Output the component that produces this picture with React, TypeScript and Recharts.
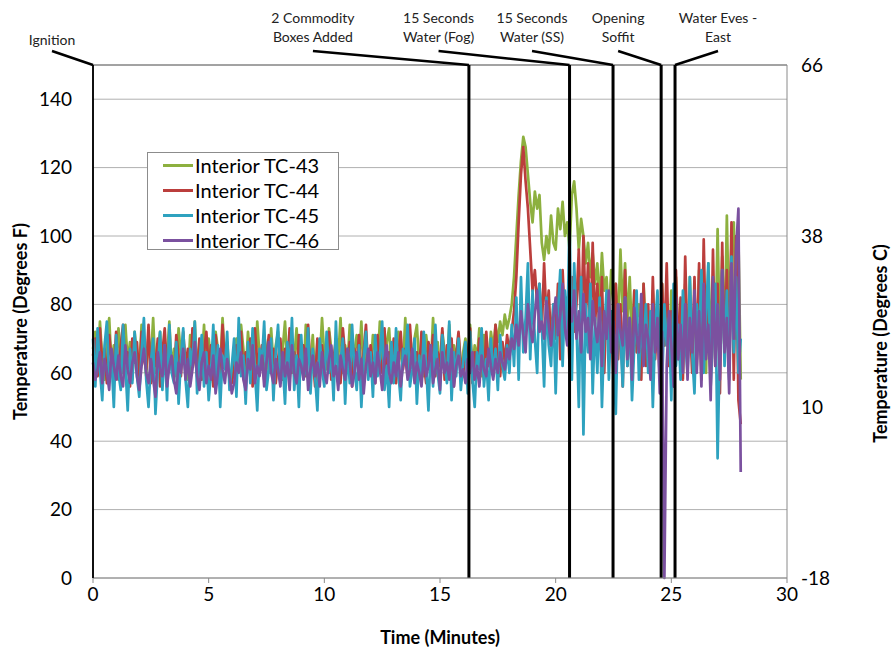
import { LineChart, Line, XAxis, YAxis, CartesianGrid, ReferenceLine, Legend } from "recharts"

const FONT = "Lato, 'Open Sans', sans-serif"

// sample times (minutes)
const timeMinutes = [
    0, 0.1, 0.2, 0.3, 0.4, 0.5, 0.6, 0.7, 0.8, 0.9, 1, 1.1, 1.2, 1.3, 1.4, 1.5, 1.6, 1.7, 1.8, 1.9,
    2, 2.1, 2.2, 2.3, 2.4, 2.5, 2.6, 2.7, 2.8, 2.9, 3, 3.1, 3.2, 3.3, 3.4, 3.5, 3.6, 3.7, 3.8, 3.9,
    4, 4.1, 4.2, 4.3, 4.4, 4.5, 4.6, 4.7, 4.8, 4.9, 5, 5.1, 5.2, 5.3, 5.4, 5.5, 5.6, 5.7, 5.8, 5.9,
    6, 6.1, 6.2, 6.3, 6.4, 6.5, 6.6, 6.7, 6.8, 6.9, 7, 7.1, 7.2, 7.3, 7.4, 7.5, 7.6, 7.7, 7.8, 7.9,
    8, 8.1, 8.2, 8.3, 8.4, 8.5, 8.6, 8.7, 8.8, 8.9, 9, 9.1, 9.2, 9.3, 9.4, 9.5, 9.6, 9.7, 9.8, 9.9,
    10, 10.1, 10.2, 10.3, 10.4, 10.5, 10.6, 10.7, 10.8, 10.9, 11, 11.1, 11.2, 11.3, 11.4, 11.5, 11.6, 11.7, 11.8, 11.9,
    12, 12.1, 12.2, 12.3, 12.4, 12.5, 12.6, 12.7, 12.8, 12.9, 13, 13.1, 13.2, 13.3, 13.4, 13.5, 13.6, 13.7, 13.8, 13.9,
    14, 14.1, 14.2, 14.3, 14.4, 14.5, 14.6, 14.7, 14.8, 14.9, 15, 15.1, 15.2, 15.3, 15.4, 15.5, 15.6, 15.7, 15.8, 15.9,
    16, 16.1, 16.2, 16.3, 16.4, 16.5, 16.6, 16.7, 16.8, 16.9, 17, 17.1, 17.2, 17.3, 17.4, 17.5, 17.6, 17.7, 17.8, 17.9,
    18, 18.1, 18.2, 18.3, 18.4, 18.5, 18.6, 18.7, 18.8, 18.9, 19, 19.1, 19.2, 19.3, 19.4, 19.5, 19.6, 19.7, 19.8, 19.9,
    20, 20.1, 20.2, 20.3, 20.4, 20.5, 20.6, 20.7, 20.8, 20.9, 21, 21.1, 21.2, 21.3, 21.4, 21.5, 21.6, 21.7, 21.8, 21.9,
    22, 22.1, 22.2, 22.3, 22.4, 22.5, 22.6, 22.7, 22.8, 22.9, 23, 23.1, 23.2, 23.3, 23.4, 23.5, 23.6, 23.7, 23.8, 23.9,
    24, 24.1, 24.2, 24.3, 24.4, 24.5, 24.6, 24.7, 24.8, 24.9, 25, 25.1, 25.2, 25.3, 25.4, 25.5, 25.6, 25.7, 25.8, 25.9,
    26, 26.1, 26.2, 26.3, 26.4, 26.5, 26.6, 26.7, 26.8, 26.9, 27, 27.1, 27.2, 27.3, 27.4, 27.5, 27.6, 27.7, 27.8, 27.9,
    28
]

// temperatures (deg F), one row per 2 minutes
const tc43 = [
    67, 72, 61, 75, 64, 58, 70, 76, 62, 68, 59, 73, 66, 60, 74, 63, 69, 58, 72, 65,
    61, 74, 68, 59, 71, 63, 76, 60, 66, 72, 58, 69, 64, 75, 61, 67, 59, 73, 65, 70,
    63, 58, 71, 66, 75, 60, 68, 62, 74, 59, 70, 64, 57, 72, 67, 61, 76, 63, 69, 60,
    58, 64, 70, 61, 74, 67, 59, 72, 63, 69, 58, 75, 65, 61, 71, 66, 60, 73, 62, 68,
    72, 60, 67, 75, 62, 58, 70, 64, 73, 61, 68, 59, 74, 65, 62, 71, 58, 69, 63, 76,
    65, 61, 73, 67, 59, 70, 64, 76, 60, 68, 62, 74, 58, 66, 71, 63, 75, 60, 69, 64,
    60, 71, 66, 62, 75, 64, 58, 69, 73, 61, 67, 59, 72, 65, 62, 76, 60, 68, 63, 70,
    74, 62, 67, 59, 71, 65, 61, 76, 63, 69, 58, 72, 66, 60, 74, 62, 68, 64, 71, 59,
    66, 70, 62, 74, 60, 68, 64, 73, 59, 71, 65, 62, 72, 67, 74, 69, 75, 71, 77, 73,
    76, 80, 88, 100, 112, 122, 129, 126, 118, 110, 104, 113, 108, 112, 98, 93, 100, 95, 106, 98,
    96, 108, 102, 110, 100, 104, 96, 112, 116, 108, 96, 105, 100, 92, 98, 88, 95, 86, 92, 80,
    95, 84, 88, 76, 90, 80, 86, 72, 96, 78, 92, 74, 88, 70, 84, 76, 80, 68, 86, 72,
    78, 66, 84, 70, 82, 64, 86, 68, 80, 62, 84, 66, 88, 70, 76, 60, 86, 64, 88, 68,
    80, 62, 90, 66, 84, 60, 92, 70, 86, 64, 102, 68, 94, 66, 106, 72, 98, 104, 70, 100,
    58
]

const tc44 = [
    65, 70, 59, 73, 62, 67, 57, 71, 64, 60, 72, 58, 68, 74, 61, 66, 56, 70, 63, 69,
    58, 72, 64, 61, 74, 57, 67, 62, 70, 56, 66, 73, 60, 68, 63, 58, 71, 65, 59, 72,
    62, 67, 57, 73, 64, 60, 70, 58, 66, 72, 61, 68, 56, 71, 63, 59, 74, 62, 66, 58,
    57, 61, 68, 64, 72, 59, 66, 62, 70, 56, 73, 63, 60, 68, 58, 65, 71, 61, 67, 57,
    64, 70, 58, 67, 62, 73, 60, 66, 57, 71, 63, 68, 59, 74, 61, 65, 56, 70, 62, 68,
    60, 66, 72, 58, 64, 70, 61, 57, 73, 65, 62, 69, 56, 67, 63, 71, 59, 66, 74, 60,
    68, 62, 57, 71, 64, 60, 73, 58, 66, 62, 70, 57, 65, 72, 61, 67, 59, 74, 63, 58,
    66, 60, 72, 63, 57, 69, 64, 71, 59, 66, 62, 73, 58, 68, 61, 70, 56, 65, 72, 62,
    59, 68, 63, 73, 57, 66, 61, 70, 64, 58, 72, 62, 67, 60, 74, 65, 59, 69, 63, 71,
    66, 72, 78, 88, 104, 118, 126, 116, 108, 96, 84, 90, 80, 86, 72, 92, 76, 84, 68, 80,
    70, 86, 64, 90, 74, 82, 62, 88, 72, 80, 96, 70, 100, 76, 92, 68, 98, 74, 86, 70,
    88, 60, 82, 66, 78, 58, 86, 64, 80, 56, 90, 62, 76, 60, 84, 66, 74, 58, 86, 62,
    80, 60, 88, 64, 76, 58, 86, 68, 92, 62, 78, 56, 90, 64, 82, 58, 94, 66, 76, 60,
    88, 64, 92, 58, 99, 66, 80, 56, 96, 62, 86, 54, 98, 64, 90, 60, 104, 58, 100, 52,
    45
]

const tc45 = [
    70, 56, 73, 61, 52, 68, 75, 58, 64, 50, 71, 60, 55, 74, 62, 49, 67, 57, 72, 59,
    53, 66, 76, 58, 50, 63, 70, 48, 61, 72, 55, 68, 52, 74, 60, 57, 69, 51, 64, 73,
    58, 50, 67, 62, 75, 54, 63, 71, 56, 66, 52, 60, 74, 57, 68, 50, 65, 61, 72, 55,
    62, 70, 53, 76, 59, 65, 51, 69, 57, 73, 60, 49, 67, 63, 75, 55, 61, 70, 52, 66,
    74, 57, 63, 51, 69, 60, 76, 55, 65, 50, 71, 58, 62, 73, 54, 67, 59, 49, 70, 61,
    56, 72, 60, 66, 52, 75, 58, 63, 70, 51, 67, 57, 74, 61, 55, 68, 50, 64, 72, 58,
    66, 53, 71, 59, 64, 75, 55, 62, 50, 69, 57, 73, 60, 52, 67, 63, 74, 56, 61, 70,
    51, 65, 58, 72, 62, 49, 68, 56, 74, 60, 54, 71, 63, 57, 75, 52, 66, 59, 70, 55,
    63, 69, 54, 72, 58, 50, 66, 61, 73, 56, 64, 52, 70, 59, 67, 55, 71, 62, 58, 68,
    60, 74, 62, 82, 58, 88, 66, 76, 92, 64, 84, 70, 60, 86, 74, 56, 82, 68, 62, 80,
    54, 78, 90, 62, 84, 70, 105, 58, 92, 74, 50, 88, 42, 80, 66, 86, 54, 76, 60, 82,
    50, 72, 84, 58, 78, 64, 48, 80, 70, 56, 82, 62, 76, 52, 68, 84, 58, 74, 66, 80,
    60, 78, 50, 72, 84, 64, 56, 80, 68, 76, 52, 86, 62, 74, 58, 84, 70, 60, 88, 66,
    54, 80, 68, 90, 60, 76, 92, 56, 72, 86, 35, 70, 90, 62, 84, 58, 94, 66, 88, 60,
    70
]

const tc46 = [
    63, 58, 61, 66, 57, 64, 60, 55, 67, 62, 58, 65, 59, 56, 68, 61, 57, 63, 66, 59,
    55, 62, 67, 60, 57, 64, 58, 53, 66, 61, 59, 68, 56, 62, 65, 58, 54, 63, 60, 67,
    58, 64, 56, 61, 69, 59, 55, 63, 66, 57, 62, 58, 65, 54, 60, 67, 61, 57, 64, 59,
    54, 57, 63, 60, 66, 58, 55, 64, 61, 68, 57, 62, 59, 65, 56, 63, 69, 60, 57, 64,
    61, 56, 66, 59, 63, 55, 68, 60, 57, 64, 62, 58, 67, 55, 61, 65, 59, 63, 56, 66,
    60, 57, 64, 68, 59, 62, 55, 65, 61, 58, 67, 63, 56, 60, 66, 58, 64, 54, 62, 67,
    59, 63, 57, 66, 61, 55, 64, 68, 60, 57, 63, 59, 66, 56, 62, 65, 58, 61, 67, 57,
    63, 60, 56, 65, 59, 62, 68, 57, 61, 64, 55, 66, 60, 63, 58, 67, 56, 62, 65, 59,
    61, 57, 64, 60, 66, 58, 62, 56, 65, 61, 59, 67, 62, 58, 64, 60, 66, 63, 61, 67,
    64, 70, 67, 74, 68, 78, 71, 66, 80, 73, 69, 77, 84, 72, 75, 70, 81, 74, 68, 76,
    82, 71, 77, 86, 73, 68, 80, 75, 84, 70, 78, 66, 83, 72, 76, 64, 81, 74, 69, 79,
    62, 78, 70, 84, 66, 75, 60, 80, 72, 68, 82, 64, 76, 58, 79, 71, 66, 83, 62, 74,
    70, 58, 80, 66, 76, 54, 72, 0, 62, 78, 68, 56, 82, 64, 74, 60, 80, 58, 76, 66,
    84, 60, 78, 56, 86, 64, 74, 52, 88, 62, 80, 58, 90, 66, 76, 54, 92, 70, 96, 108,
    31
]

const seriesKeys = ["tc43", "tc44", "tc45", "tc46"]
const seriesNames = ["Interior TC-43", "Interior TC-44", "Interior TC-45", "Interior TC-46"]
const seriesColors = ["#8db03f", "#bb3e3c", "#2ea2bf", "#7b519f"]

const fTicks = [0, 20, 40, 60, 80, 100, 120, 140]
const cTicks = [-18, 10, 38, 66]
const xTicks = [0, 5, 10, 15, 20, 25, 30]

// event markers
const eventTimes = [0, 16.25, 20.6, 22.48, 24.56, 25.16]
const eventLabels = [
    ["Ignition"],
    ["2 Commodity", "Boxes Added"],
    ["15 Seconds", "Water (Fog)"],
    ["15 Seconds", "Water (SS)"],
    ["Opening", "Soffit"],
    ["Water Eves -", "East"]
]
// horizontal shift of each label from its marker line (px)
const labelShift = [-41, -156, -131, -81, -43, 43]

const rows = timeMinutes.map((t, i) => ({
    t,
    tc43: tc43[i],
    tc44: tc44[i],
    tc45: tc45[i],
    tc46: tc46[i]
}))

const tickStyle = { fontFamily: FONT, fontSize: 19, fill: "#000" }
const titleStyle = { fontFamily: FONT, fontSize: 18, fontWeight: 700, fill: "#000" }

function eventLabel(index: number) {
    return (props: any) => {
        const vb = props.viewBox || {}
        const x = vb.x
        const top = vb.y
        const lines = eventLabels[index]
        const lx = x + labelShift[index]
        const base = lines.length > 1 ? top - 29 : top - 26
        return (
            <g>
                <line x1={x} y1={top} x2={lx} y2={top - 14} stroke="#000" strokeWidth={2.5} />
                {lines.map((s, k) => (
                    <text
                        key={k}
                        x={lx}
                        y={base - (lines.length - 1 - k) * 19}
                        textAnchor="middle"
                        dominantBaseline="central"
                        style={{ fontFamily: FONT, fontSize: 14, fill: "#222" }}
                    >
                        {s}
                    </text>
                ))}
            </g>
        )
    }
}

function LegendBox() {
    return (
        <div
            style={{
                width: 192,
                height: 98,
                boxSizing: "border-box",
                border: "1px solid #8c8c8c",
                background: "#fff",
                fontFamily: FONT,
                fontSize: 20,
                color: "#000"
            }}
        >
            {seriesNames.map((name, i) => (
                <div key={name} style={{ display: "flex", alignItems: "center", height: 25, lineHeight: "25px" }}>
                    <span style={{ display: "inline-block", width: 30, height: 3, marginLeft: 15, background: seriesColors[i] }} />
                    <span style={{ marginLeft: 2 }}>{name}</span>
                </div>
            ))}
        </div>
    )
}

export default function App() {
    return (
        <div style={{ position: "absolute", left: 0, top: 0, width: 896, height: 656, background: "#fff" }}>
            <LineChart width={896} height={656} data={rows} margin={{ top: 65, right: 49, bottom: 38, left: 33 }}>
                <CartesianGrid vertical={false} yAxisId="F" stroke="#b0b0b0" />
                <XAxis
                    dataKey="t"
                    type="number"
                    domain={[0, 30]}
                    ticks={xTicks}
                    height={40}
                    tick={tickStyle}
                    tickSize={5}
                    tickMargin={5}
                    axisLine={{ stroke: "#8a8a8a" }}
                    tickLine={{ stroke: "#8a8a8a" }}
                    label={(p: any) => {
                        const vb = p.viewBox || {}
                        return (
                            <text x={vb.x + vb.width / 2} y={vb.y + 59} textAnchor="middle" dominantBaseline="central" style={titleStyle}>
                                Time (Minutes)
                            </text>
                        )
                    }}
                />
                <YAxis
                    yAxisId="F"
                    domain={[0, 150]}
                    ticks={fTicks}
                    width={60}
                    tick={tickStyle}
                    tickLine={false}
                    tickSize={5}
                    tickMargin={16}
                    axisLine={{ stroke: "#000", strokeWidth: 1.5 }}
                    label={(p: any) => {
                        const vb = p.viewBox || {}
                        const cx = vb.x - 13
                        const cy = vb.y + vb.height / 2
                        return (
                            <text x={cx} y={cy} transform={`rotate(-90 ${cx} ${cy})`} textAnchor="middle" dominantBaseline="central" style={titleStyle}>
                                Temperature (Degrees F)
                            </text>
                        )
                    }}
                />
                <YAxis
                    yAxisId="C"
                    orientation="right"
                    domain={[-18, 66]}
                    allowDataOverflow
                    ticks={cTicks}
                    width={60}
                    tick={tickStyle}
                    tickLine={false}
                    tickSize={5}
                    tickMargin={9}
                    axisLine={{ stroke: "#8a8a8a" }}
                    label={(p: any) => {
                        const vb = p.viewBox || {}
                        const cx = vb.x + 93
                        const cy = vb.y + vb.height / 2 + 22
                        return (
                            <text x={cx} y={cy} transform={`rotate(-90 ${cx} ${cy})`} textAnchor="middle" dominantBaseline="central" style={titleStyle}>
                                Temperature (Degrees C)
                            </text>
                        )
                    }}
                />
                <ReferenceLine y={150} yAxisId="F" stroke="#6e6e6e" strokeWidth={1.2} />
                {seriesKeys.map((k, i) => (
                    <Line
                        key={k}
                        yAxisId="F"
                        type="linear"
                        dataKey={k}
                        name={seriesNames[i]}
                        stroke={seriesColors[i]}
                        strokeWidth={2.7}
                        strokeLinejoin="round"
                        dot={false}
                        isAnimationActive={false}
                    />
                ))}
                {eventTimes.map((t, i) => (
                    <ReferenceLine
                        key={t}
                        x={t}
                        yAxisId="F"
                        stroke="#000"
                        strokeWidth={i === 0 ? 1.5 : 3}
                        label={eventLabel(i)}
                    />
                ))}
                <Legend
                    layout="vertical"
                    align="center"
                    verticalAlign="middle"
                    wrapperStyle={{ left: 147, top: 152, width: 192 }}
                    content={() => <LegendBox />}
                />
            </LineChart>
        </div>
    )
}
